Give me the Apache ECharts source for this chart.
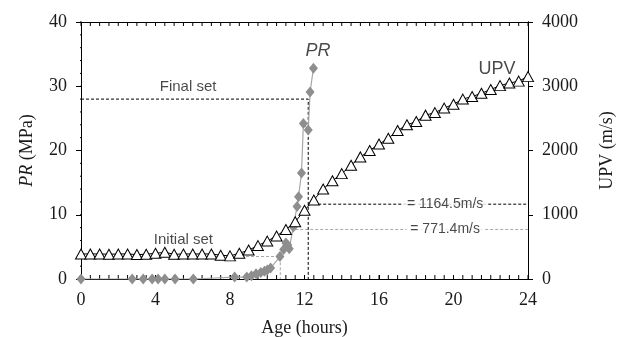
<!DOCTYPE html>
<html>
<head>
<meta charset="utf-8">
<script src="https://cdn.jsdelivr.net/npm/echarts@6/dist/echarts.min.js"></script>
<style>
  html, body { margin: 0; padding: 0; background: #fff; }
  #chart { width: 619px; height: 337px; }
</style>
</head>
<body>
<div id="chart"></div>
<script>
// UPV readings every half hour, 0..24 h (m/s)
var upvHours = [0, 0.5, 1, 1.5, 2, 2.5, 3, 3.5, 4, 4.5, 5, 5.5, 6, 6.5, 7, 7.5, 8, 8.5, 9, 9.5,
                10, 10.5, 11, 11.5, 12, 12.5, 13, 13.5, 14, 14.5, 15, 15.5, 16, 16.5, 17, 17.5,
                18, 18.5, 19, 19.5, 20, 20.5, 21, 21.5, 22, 22.5, 23, 23.5, 24];
var upvValues = [390, 390, 390, 385, 390, 390, 380, 385, 400, 415, 385, 390, 390, 390, 390, 370,
                 360, 400, 450, 520, 590, 670, 770, 890, 1070, 1230, 1400, 1530, 1640, 1770, 1900,
                 2000, 2100, 2190, 2310, 2400, 2450, 2550, 2590, 2660, 2720, 2800, 2840, 2890,
                 2950, 3010, 3050, 3080, 3150];

// penetration resistance readings (hours, MPa)
var prHours = [0, 2.75, 3.34, 3.82, 4.14, 4.5, 5.05, 6.03, 8.25, 8.9, 9.15, 9.4, 9.65, 9.85,
               10.0, 10.18, 10.68, 10.88, 11.0, 11.1, 11.18, 11.4, 11.6, 11.68, 11.84, 11.94,
               12.2, 12.3, 12.48];
var prValues = [0, 0, 0, 0, 0, 0, 0, 0, 0.3, 0.3, 0.5, 0.8, 1.0, 1.2, 1.4, 1.7, 3.5, 4.6, 5.6,
                5.3, 4.7, 8.1, 11.3, 12.8, 16.5, 24.2, 23.2, 29.1, 32.8];

// setting times
var initialSet = { hours: 10.7, pr: 3.5, upv: 771.4 };
var finalSet = { hours: 12.2, pr: 28, upv: 1164.5 };

// axis ranges, labelled step and small tick step
var xRange = [0, 24], xStep = 4, xSmall = 0.5;
var prRange = [0, 40], prStep = 10, prSmall = 2;
var upvRange = [0, 4000], upvStep = 1000, upvSmall = 200;

var gridBox = { left: 81, right: 91, top: 22, bottom: 58 };
var plotW = 619 - gridBox.left - gridBox.right;
var plotH = 337 - gridBox.top - gridBox.bottom;
var tickPx = 4;

function zip(a, b) {
    var out = [];
    for (var i = 0; i < a.length; i++) out.push([a[i], b[i]]);
    return out;
}
function tickList(range, step) {
    var out = [];
    var n = Math.round((range[1] - range[0]) / step);
    for (var i = 0; i <= n; i++) out.push(range[0] + i * step);
    return out;
}
// short segments broken by empty points, drawn as one plain line series
function segments(pairs) {
    var out = [];
    for (var i = 0; i < pairs.length; i++) {
        out.push(pairs[i][0], pairs[i][1], ['-', '-']);
    }
    return out;
}

var dx = (xRange[1] - xRange[0]) / plotW * (tickPx + 1);
var dPr = (prRange[1] - prRange[0]) / plotH * tickPx;
var dUpv = (upvRange[1] - upvRange[0]) / plotH;

var xTickPairs = [];
tickList(xRange, xSmall).forEach(function (t) {
    xTickPairs.push([[t, prRange[0]], [t, prRange[0] + dPr]]);
    xTickPairs.push([[t, prRange[1]], [t, prRange[1] - dPr]]);
});
var prTickPairs = tickList(prRange, prSmall).map(function (v) {
    return [[xRange[0] - dx, v], [xRange[0], v]];
});
var upvTickPairs = tickList(upvRange, upvSmall).map(function (v) {
    return [[xRange[1], v], [xRange[1] + dx, v]];
});

var serif = '"Liberation Serif", "Times New Roman", serif';
var sans = '"Liberation Sans", Arial, sans-serif';
var grayDash = '#a8a8a8';
var ink = '#1a1a1a';

function note(name, x, y, yIndex, style) {
    return {
        type: 'scatter', yAxisIndex: yIndex, silent: true, z: 10,
        symbolSize: 1, itemStyle: { color: 'rgba(0,0,0,0)' },
        label: Object.assign({ show: true, position: 'inside', formatter: name,
            fontFamily: sans, fontSize: 15, color: ink }, style || {}),
        data: [[x, y]]
    };
}
function tickSeries(yIndex, pairs) {
    return {
        type: 'line', yAxisIndex: yIndex, symbol: 'none', silent: true, clip: false, z: 5,
        connectNulls: false,
        lineStyle: { color: '#000', width: 1 },
        data: segments(pairs)
    };
}

var chart = echarts.init(document.getElementById('chart'));
var axisLine = { show: true, onZero: false, lineStyle: { color: '#000', width: 1 } };
var tickLabel = { fontFamily: serif, fontSize: 18, color: ink };

var option = {
    animation: false,
    backgroundColor: '#fff',
    grid: Object.assign({ outerBoundsMode: 'none', containLabel: false }, gridBox),
    xAxis: [{
        type: 'value', min: xRange[0], max: xRange[1], interval: xStep,
        name: 'Age (hours)', nameLocation: 'middle', nameGap: 40,
        nameTextStyle: { fontFamily: serif, fontSize: 18, color: ink },
        axisLine: axisLine,
        axisTick: { show: true, inside: true, length: tickPx, lineStyle: { color: '#000' } },
        axisLabel: Object.assign({ margin: 12 }, tickLabel),
        splitLine: { show: false }
    }, {
        type: 'value', position: 'top', min: xRange[0], max: xRange[1], interval: xStep,
        axisLine: axisLine,
        axisTick: { show: false },
        axisLabel: { show: false },
        splitLine: { show: false }
    }],
    yAxis: [{
        type: 'value', min: prRange[0], max: prRange[1], interval: prStep,
        name: '{i|PR} (MPa)', nameLocation: 'middle', nameGap: 45, nameRotate: 90,
        nameTextStyle: { fontFamily: serif, fontSize: 18, color: ink,
            rich: { i: { fontFamily: serif, fontSize: 18, fontStyle: 'italic', color: ink } } },
        axisLine: axisLine,
        axisTick: { show: true, length: tickPx + 1, lineStyle: { color: '#000' } },
        axisLabel: Object.assign({ margin: 14 }, tickLabel),
        splitLine: { show: false }
    }, {
        type: 'value', min: upvRange[0], max: upvRange[1], interval: upvStep,
        position: 'right',
        name: 'UPV (m/s)', nameLocation: 'middle', nameGap: 70, nameRotate: 90,
        nameTextStyle: { fontFamily: serif, fontSize: 18, color: ink },
        axisLine: axisLine,
        axisTick: { show: true, length: tickPx + 1, lineStyle: { color: '#000' } },
        axisLabel: Object.assign({ margin: 14, formatter: function (v) { return String(v); } }, tickLabel),
        splitLine: { show: false }
    }],
    series: [
        tickSeries(0, xTickPairs),
        tickSeries(0, prTickPairs),
        tickSeries(1, upvTickPairs),
        // initial set guide lines
        {
            type: 'line', yAxisIndex: 0, symbol: 'none', silent: true, z: 1,
            lineStyle: { color: grayDash, width: 1, type: [3, 2] },
            data: [[0, initialSet.pr], [initialSet.hours, initialSet.pr], [initialSet.hours, 0]]
        },
        {
            type: 'line', yAxisIndex: 1, symbol: 'none', silent: true, z: 1,
            lineStyle: { color: grayDash, width: 1, type: [3, 2] },
            data: [[11.5, initialSet.upv], [24, initialSet.upv]]
        },
        // final set guide lines
        {
            type: 'line', yAxisIndex: 0, symbol: 'none', silent: true, z: 1,
            lineStyle: { color: '#000', width: 1, type: [3, 2] },
            data: [[0, finalSet.pr], [finalSet.hours, finalSet.pr], [finalSet.hours, 0]]
        },
        {
            type: 'line', yAxisIndex: 1, symbol: 'none', silent: true, z: 1,
            lineStyle: { color: '#000', width: 1, type: [3, 2] },
            data: [[finalSet.hours, finalSet.upv], [24, finalSet.upv]]
        },
        {
            name: 'PR', type: 'line', yAxisIndex: 0, z: 6,
            symbol: 'diamond', symbolSize: [9, 11],
            itemStyle: { color: '#8e8e8e' },
            lineStyle: { color: '#a6a6a6', width: 1.2 },
            data: zip(prHours, prValues)
        },
        {
            name: 'UPV', type: 'line', yAxisIndex: 1, z: 7,
            symbol: 'triangle', symbolSize: [11, 10],
            itemStyle: { color: '#fff', borderColor: '#000', borderWidth: 1 },
            lineStyle: { color: '#000', width: 1 },
            data: zip(upvHours, upvValues)
        },
        note('Final set', 5.75, 29.9, 0),
        note('Initial set', 5.5, 6.1, 0),
        note('PR', 12.72, 35.5, 0, { fontSize: 18, fontStyle: 'italic' }),
        note('UPV', 22.33, 3270, 1, { fontSize: 18 }),
        note('= ' + finalSet.upv + 'm/s', 19.55, finalSet.upv, 1,
            { fontSize: 14, backgroundColor: '#fff', padding: [0, 4] }),
        note('= ' + initialSet.upv + 'm/s', 19.55, initialSet.upv, 1,
            { fontSize: 14, backgroundColor: '#fff', padding: [0, 4] })
    ]
};
chart.setOption(option);
</script>
</body>
</html>
